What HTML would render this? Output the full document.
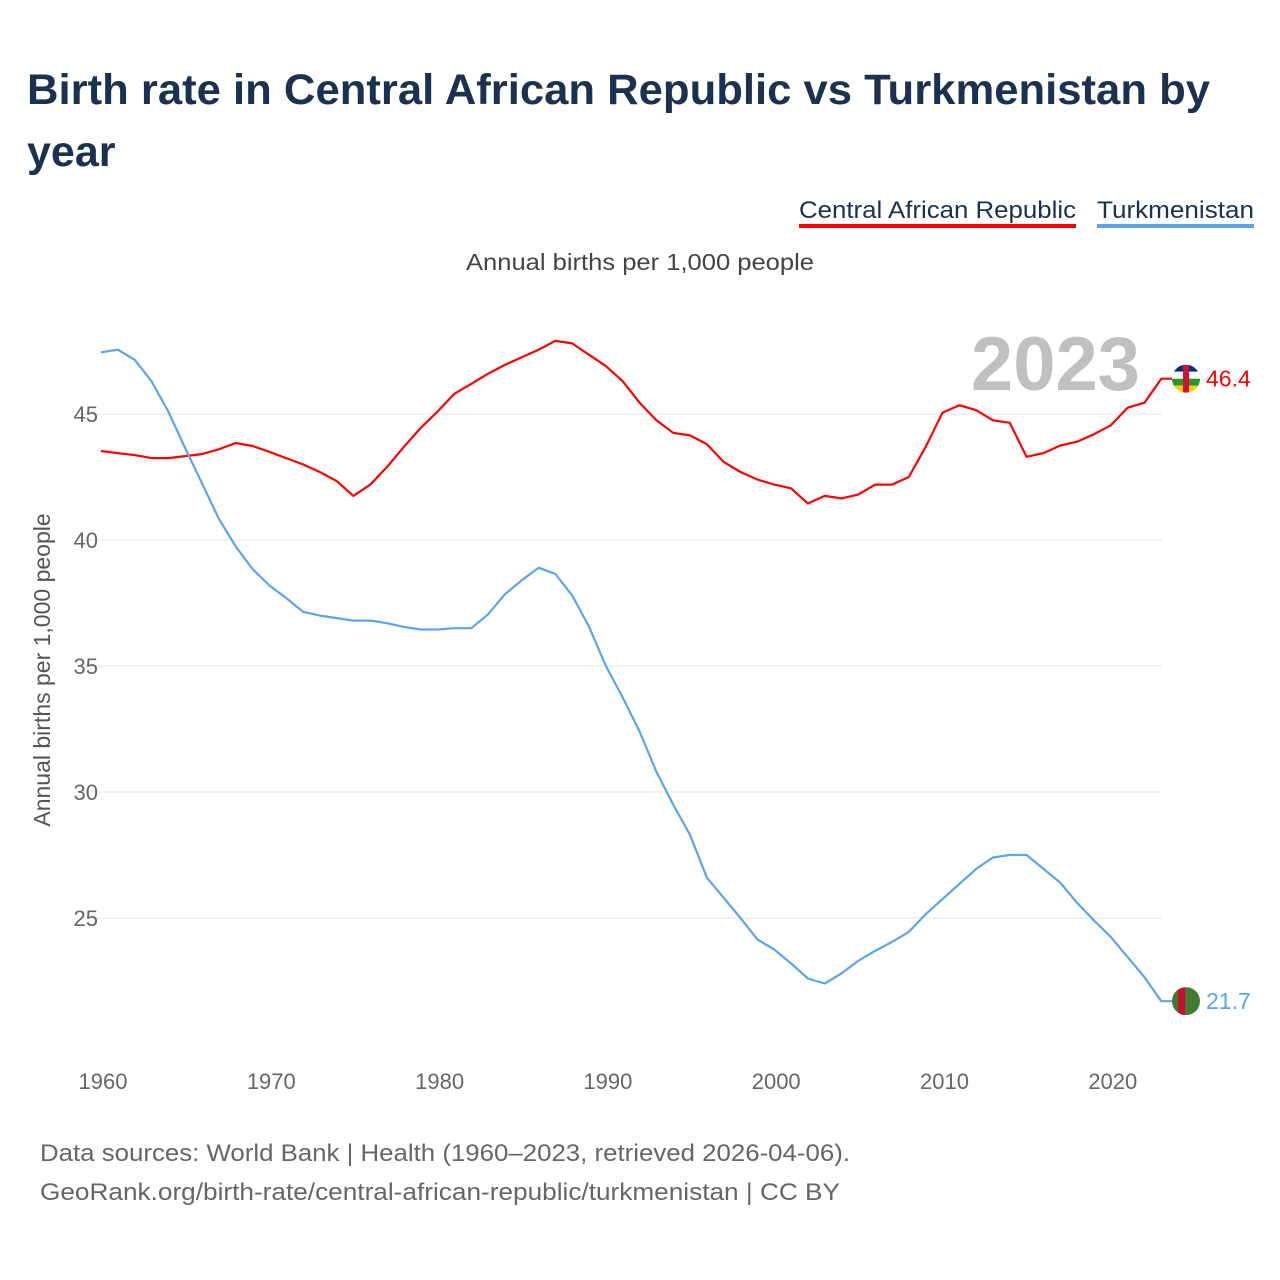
<!DOCTYPE html>
<html><head><meta charset="utf-8">
<style>
body{margin:0;background:#fff;font-family:"Liberation Sans",sans-serif;}
#wrap{position:relative;width:1280px;height:1280px;overflow:hidden}
</style></head>
<body><div id="wrap">
<svg id="chart" width="1280" height="1280">
<defs>
<clipPath id="c1"><circle cx="1186" cy="377" r="14"/></clipPath>
</defs>
<text x="27" y="104" font-size="43" font-weight="bold" fill="#1a3150" textLength="1183" lengthAdjust="spacingAndGlyphs">Birth rate in Central African Republic vs Turkmenistan by</text>
<text x="27" y="166" font-size="43" font-weight="bold" fill="#1a3150">year</text>
<g><text x="799" y="218" font-size="24" fill="#1a3150" textLength="277" lengthAdjust="spacingAndGlyphs">Central African Republic</text><rect x="799" y="224" width="277" height="4" fill="#ff0000"/></g>
<g><text x="1097" y="218" font-size="24" fill="#1a3150" textLength="157" lengthAdjust="spacingAndGlyphs">Turkmenistan</text><rect x="1097" y="224" width="157" height="4" fill="#5aa5ee"/></g>
<text x="466" y="270" font-size="23" fill="#444" textLength="348" lengthAdjust="spacingAndGlyphs">Annual births per 1,000 people</text>
<text x="1140" y="390" font-size="76" font-weight="bold" fill="#c0c0c0" text-anchor="end">2023</text>
<text transform="translate(50,670) rotate(-90)" font-size="23" fill="#555" text-anchor="middle">Annual births per 1,000 people</text>
<g id="grid"></g><g id="series"></g>
<text x="40" y="1161" font-size="24" fill="#666" textLength="810" lengthAdjust="spacingAndGlyphs">Data sources: World Bank | Health (1960–2023, retrieved 2026-04-06).</text>
<text x="40" y="1200" font-size="24" fill="#666" textLength="800" lengthAdjust="spacingAndGlyphs">GeoRank.org/birth-rate/central-african-republic/turkmenistan | CC BY</text>
</svg></div>
<script>
const years=[];for(let y=1960;y<=2023;y++)years.push(y);
const carValues=[43.53,43.45,43.37,43.25,43.25,43.33,43.41,43.6,43.85,43.73,43.5,43.25,43.0,42.7,42.34,41.75,42.2,42.9,43.7,44.45,45.1,45.8,46.2,46.6,46.95,47.25,47.55,47.9,47.8,47.35,46.9,46.3,45.45,44.75,44.25,44.15,43.8,43.1,42.7,42.4,42.2,42.05,41.45,41.75,41.65,41.8,42.2,42.2,42.5,43.7,45.05,45.35,45.15,44.75,44.65,43.3,43.45,43.75,43.9,44.2,44.55,45.25,45.45,46.4];
const tkmValues=[47.45,47.55,47.15,46.3,45.1,43.65,42.25,40.85,39.75,38.85,38.2,37.7,37.15,37.0,36.9,36.8,36.8,36.7,36.55,36.45,36.45,36.5,36.5,37.05,37.85,38.4,38.9,38.65,37.8,36.55,35.0,33.75,32.4,30.8,29.5,28.3,26.6,25.8,25.0,24.15,23.75,23.2,22.6,22.4,22.8,23.3,23.7,24.05,24.45,25.15,25.75,26.35,26.95,27.4,27.5,27.5,26.95,26.4,25.6,24.9,24.25,23.45,22.65,21.7];
const yTicks=[25,30,35,40,45];
const xTicks=[1960,1970,1980,1990,2000,2010,2020];
const NS="http://www.w3.org/2000/svg";
const xs=y=>101+(y-1960)*16.83;
const ys=v=>414-(v-45)*25.2;
const grid=document.getElementById('grid'),ser=document.getElementById('series');
function mk(tag,attrs,parent){const e=document.createElementNS(NS,tag);for(const k in attrs)e.setAttribute(k,attrs[k]);parent.appendChild(e);return e;}
yTicks.forEach(t=>{
 const l=mk('line',{x1:80,x2:1162,y1:ys(t),y2:ys(t),stroke:'#e4e4e4','stroke-width':1},grid);
 
 
 const tx=mk('text',{x:98,y:ys(t)+8,'font-size':22,fill:'#666','text-anchor':'end'},grid);tx.textContent=t;
 
 
});
xTicks.forEach(t=>{
 const tx=mk('text',{x:xs(t)+2,y:1089,'font-size':22,fill:'#666','text-anchor':'middle'},grid);tx.textContent=t;
 
 
});
function line(vals,color,name){
 let d=vals.map((v,i)=>(i?'L':'M')+xs(years[i]).toFixed(1)+','+ys(v).toFixed(1)).join('');
 d+='L1172,'+ys(vals[vals.length-1]).toFixed(1);
 const p=mk('path',{d:d,fill:'none',stroke:color,'stroke-width':2.2,'stroke-linejoin':'round'},ser);
 
 
 const v=vals[vals.length-1];const cy=ys(v);
 const g=mk('g',{},ser);
 
 
 const cid='clip-'+name;
 const cp=mk('clipPath',{id:cid},g);mk('circle',{cx:1186,cy:cy,r:14},cp);
 const inner=mk('g',{'clip-path':'url(#'+cid+')'},g);
 if(name==='car'){
  ['#003082','#ffffff','#289728','#ffce00'].forEach((c,i)=>mk('rect',{x:1172,y:cy-14+i*7,width:28,height:7,fill:c},inner));
  mk('rect',{x:1183,y:cy-14,width:6,height:28,fill:'#d21034'},inner);
 } else {
  mk('rect',{x:1172,y:cy-14,width:28,height:28,fill:'#3f7a30'},inner);
  mk('rect',{x:1178,y:cy-14,width:7,height:28,fill:'#c8102e'},inner);
 }
 const t=mk('text',{x:1206,y:cy+8,'font-size':23,fill:color},ser);t.textContent=v.toFixed(1);
 
 
}
line(carValues,'#ff0000','car');
line(tkmValues,'#5aa5ee','turkmenistan');
</script>
</body></html>
